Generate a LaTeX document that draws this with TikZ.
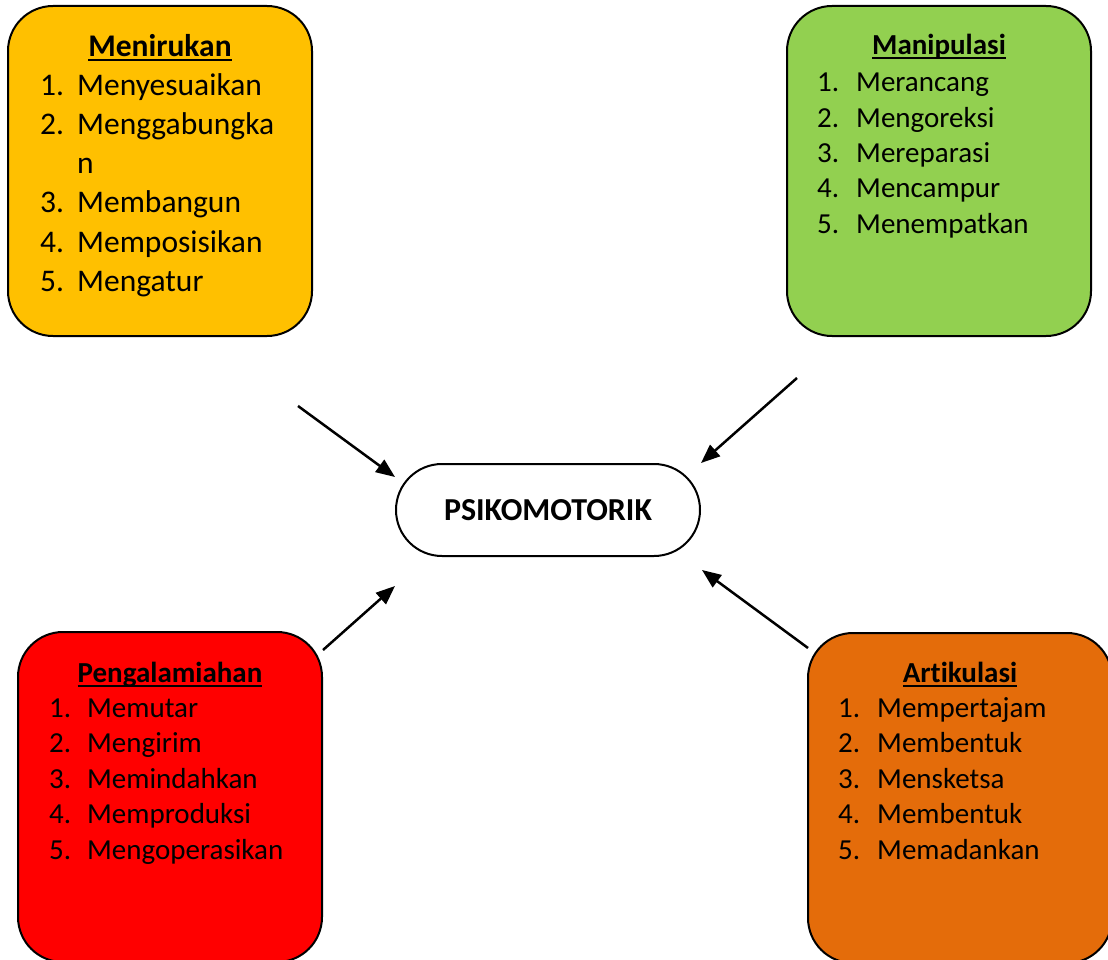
\documentclass[tikz,border=0pt]{standalone}
\usepackage{fontspec}
\setmainfont{Carlito}[Ligatures=NoCommon]
\usetikzlibrary{arrows.meta,shapes.misc}
\definecolor{cyel}{HTML}{FFC000}
\definecolor{cgrn}{HTML}{92D050}
\definecolor{cred}{HTML}{FF0000}
\definecolor{corg}{HTML}{E46C0A}
\newcommand\myul[1]{\setbox0\hbox{#1}\rlap{\rule[-4.5pt]{\wd0}{2pt}}\box0}
\begin{document}
\begin{tikzpicture}[x=1pt,y=-1pt,
  box/.style={draw=black,line width=2pt,rounded corners=45pt,minimum width=304pt,minimum height=330pt,inner sep=0pt},
  ttl/.style={anchor=base,inner sep=0pt,font=\bfseries\fontsize{29}{35}\selectfont},
  bigttl/.style={anchor=base,inner sep=0pt,font=\bfseries\fontsize{31.5}{39}\selectfont},
  itm/.style={anchor=base west,inner sep=0pt,font=\fontsize{29}{35}\selectfont},
  bigitm/.style={anchor=base west,inner sep=0pt,font=\fontsize{31.5}{39}\selectfont},
  arr/.style={line width=2.5pt,-{Triangle[length=19pt,width=15pt]}}]
\useasboundingbox (0,0) rectangle (1108,960);

% boxes
\node[box,fill=cyel] (b1) at (160,171) {};
\node[box,fill=cgrn] (b2) at (939,171) {};
\node[box,fill=cred] (b3) at (170,797) {};
\node[box,fill=corg] (b4) at (960,798) {};

% centre
\node[draw=black,line width=2pt,rounded rectangle,minimum width=304pt,minimum height=92pt,inner sep=0pt,
      font=\bfseries\fontsize{32}{38}\selectfont] (c) at (548,510) {PSIKOMOTORIK};

% Menirukan
\node[bigttl] (t1) at (160,57) {\myul{Menirukan}};
\foreach \n/\t/\y [count=\i] in {1./Menyesuaikan/96, 2./Menggabungka/135, /n/174, 3./Membangun/213, 4./Memposisikan/252, 5./Mengatur/291}{
  \node[bigitm] (n1\i) at (40,\y) {\n};
  \node[bigitm] (i1\i) at (77,\y) {\t};
}

% Manipulasi
\node[ttl] (t2) at (939,55) {\myul{Manipulasi}};
\foreach \t/\y [count=\i] in {Merancang/92, Mengoreksi/127.3, Mereparasi/162.6, Mencampur/197.9, Menempatkan/233.2}{
  \node[itm] (n2\i) at (817,\y) {\i.};
  \node[itm] (i2\i) at (856,\y) {\t};
}

% Pengalamiahan
\node[ttl] (t3) at (170,682) {\myul{Pengalamiahan}};
\foreach \t/\y [count=\i] in {Memutar/717, Mengirim/752.5, Memindahkan/788, Memproduksi/823.5, Mengoperasikan/859}{
  \node[itm] (n3\i) at (49,\y) {\i.};
  \node[itm] (i3\i) at (87,\y) {\t};
}

% Artikulasi
\node[ttl] (t4) at (960,682) {\myul{Artikulasi}};
\foreach \t/\y [count=\i] in {Mempertajam/717, Membentuk/752.5, Mensketsa/788, Membentuk/823.5, Memadankan/859}{
  \node[itm] (n4\i) at (838,\y) {\i.};
  \node[itm] (i4\i) at (877,\y) {\t};
}

% arrows
\coordinate (a1s) at (298,406); \coordinate (a1e) at (395,477);
\coordinate (a2s) at (797,378); \coordinate (a2e) at (701,463);
\coordinate (a3s) at (323,650); \coordinate (a3e) at (395,586);
\coordinate (a4s) at (808,648); \coordinate (a4e) at (702,570);
\draw[arr] (a1s) -- (a1e);
\draw[arr] (a2s) -- (a2e);
\draw[arr] (a3s) -- (a3e);
\draw[arr] (a4s) -- (a4e);
\end{tikzpicture}
\end{document}
